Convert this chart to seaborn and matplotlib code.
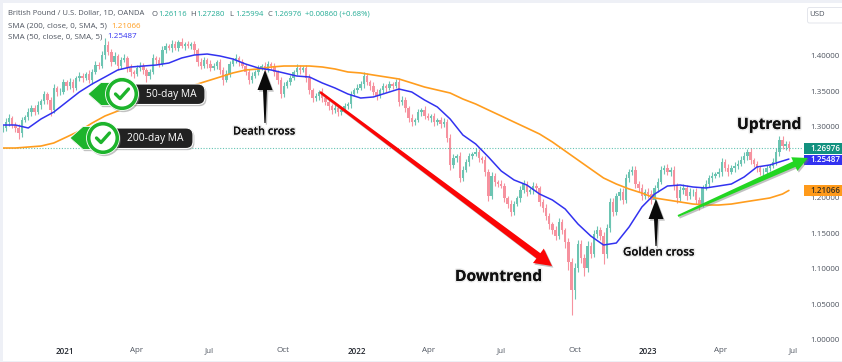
import pandas as pd
import numpy as np
import seaborn as sns
import matplotlib.pyplot as plt
import matplotlib.dates as mdates
import matplotlib.patheffects as pe
from matplotlib.patches import Circle, Polygon, FancyBboxPatch, Rectangle

# GBP/USD daily chart (one candle per 4 days)
closes = [
    1.2986, 1.3070, 1.3127, 1.3028, 1.2986, 1.2915, 1.3099, 1.3141, 1.3211, 1.3268,
    1.3211, 1.3310, 1.3366, 1.3465, 1.3380, 1.3239, 1.3549, 1.3493, 1.3493, 1.3634,
    1.3577, 1.3634, 1.3549, 1.3690, 1.3718, 1.3690, 1.3746, 1.3662, 1.3775, 1.3873,
    1.3859, 1.4014, 1.4155, 1.4056, 1.3915, 1.4000, 1.3859, 1.3944, 1.3972, 1.3831,
    1.3775, 1.3746, 1.3831, 1.3859, 1.3803, 1.3718, 1.3775, 1.3972, 1.3944, 1.3887,
    1.4085, 1.4141, 1.4113, 1.4169, 1.4113, 1.4197, 1.4141, 1.4169, 1.4141, 1.4169,
    1.4085, 1.3915, 1.3859, 1.3944, 1.3887, 1.3831, 1.3859, 1.3915, 1.3803, 1.3662,
    1.3746, 1.3887, 1.3944, 1.3972, 1.3915, 1.3859, 1.3775, 1.3662, 1.3718, 1.3775,
    1.3831, 1.3859, 1.3803, 1.3887, 1.3859, 1.3775, 1.3662, 1.3465, 1.3577, 1.3634,
    1.3690, 1.3775, 1.3831, 1.3803, 1.3831, 1.3690, 1.3521, 1.3408, 1.3437, 1.3493,
    1.3408, 1.3352, 1.3296, 1.3239, 1.3268, 1.3211, 1.3239, 1.3296, 1.3324, 1.3465,
    1.3521, 1.3549, 1.3606, 1.3718, 1.3634, 1.3577, 1.3493, 1.3437, 1.3521, 1.3577,
    1.3549, 1.3606, 1.3577, 1.3634, 1.3352, 1.3380, 1.3268, 1.3127, 1.3070, 1.3099,
    1.3211, 1.3239, 1.3155, 1.3127, 1.3155, 1.3070, 1.3099, 1.3042, 1.3070, 1.2845,
    1.2465, 1.2563, 1.2592, 1.2282, 1.2394, 1.2507, 1.2592, 1.2620, 1.2648, 1.2563,
    1.2535, 1.2366, 1.2028, 1.2310, 1.2225, 1.2197, 1.2169, 1.2000, 1.1915, 1.1803,
    1.1915, 1.2000, 1.2113, 1.2197, 1.2085, 1.2113, 1.2169, 1.2141, 1.1944, 1.1859,
    1.1746, 1.1634, 1.1549, 1.1465, 1.1662, 1.1549, 1.1380, 1.1099, 1.0704, 1.1014,
    1.1352, 1.1155, 1.1014, 1.1324, 1.1211, 1.1493, 1.1549, 1.1465, 1.1211, 1.1577,
    1.1944, 1.1803, 1.2028, 1.2085, 1.1972, 1.2282, 1.2366, 1.2394, 1.2197, 1.2141,
    1.2028, 1.2085, 1.2056, 1.1972, 1.2141, 1.2225, 1.2394, 1.2423, 1.2366, 1.2394,
    1.2169, 1.2000, 1.2113, 1.2141, 1.2028, 1.2085, 1.2085, 1.1972, 1.1915, 1.2141,
    1.2197, 1.2282, 1.2310, 1.2338, 1.2366, 1.2507, 1.2423, 1.2366, 1.2423, 1.2451,
    1.2479, 1.2535, 1.2592, 1.2648, 1.2535, 1.2479, 1.2423, 1.2366, 1.2366, 1.2423,
    1.2451, 1.2507, 1.2648, 1.2817, 1.2732, 1.2761, 1.2698,
]
upper_wicks = [
    .004, .006, .005, .003, .004, .006, .004, .003, .005, .004,
    .004, .005, .003, .004, .003, .004, .005, .003, .006, .004,
    .003, .005, .004, .003, .005, .004, .003, .006, .004, .005,
    .004, .006, .010, .005, .004, .005, .003, .004, .006, .003,
    .005, .003, .004, .006, .004, .003, .004, .005, .003, .004,
    .005, .004, .003, .005, .004, .003, .005, .003, .004, .003,
    .004, .003, .005, .004, .003, .005, .004, .003, .004, .004,
    .005, .004, .003, .005, .003, .004, .003, .004, .005, .003,
    .004, .003, .005, .004, .003, .004, .003, .004, .005, .003,
    .004, .003, .005, .004, .003, .004, .005, .003, .004, .003,
    .005, .003, .004, .003, .005, .004, .003, .004, .003, .004,
    .003, .005, .004, .005, .004, .003, .005, .004, .003, .004,
    .003, .004, .003, .004, .006, .005, .004, .003, .005, .003,
    .004, .003, .005, .004, .003, .004, .003, .004, .005, .004,
    .006, .005, .003, .006, .005, .004, .004, .003, .005, .004,
    .003, .005, .004, .006, .004, .003, .005, .004, .003, .005,
    .004, .003, .005, .006, .004, .003, .005, .004, .003, .004,
    .005, .004, .003, .005, .006, .004, .003, .005, .006, .007,
    .006, .005, .006, .007, .005, .006, .005, .004, .006, .005,
    .005, .006, .004, .005, .006, .005, .004, .006, .005, .004,
    .005, .004, .006, .005, .004, .005, .006, .004, .005, .004,
    .005, .004, .005, .006, .004, .005, .004, .005, .004, .004,
    .005, .004, .006, .003, .005, .006, .004, .005, .004, .006,
    .005, .006, .006, .004, .005, .003, .004, .003, .005, .004,
    .003, .005, .006, .005, .006, .004, .004,
]
lower_wicks = [
    .006, .004, .005, .004, .005, .008, .005, .003, .004, .005,
    .004, .003, .005, .004, .006, .008, .004, .006, .004, .003,
    .005, .004, .006, .003, .004, .005, .003, .004, .005, .003,
    .004, .003, .005, .004, .006, .003, .006, .004, .003, .005,
    .006, .005, .003, .004, .005, .008, .004, .003, .005, .004,
    .003, .004, .003, .005, .003, .004, .003, .005, .003, .004,
    .005, .006, .004, .003, .005, .004, .003, .004, .005, .007,
    .003, .004, .003, .004, .005, .003, .004, .006, .004, .003,
    .004, .003, .005, .003, .004, .006, .005, .005, .004, .003,
    .004, .003, .004, .005, .003, .006, .005, .006, .004, .005,
    .006, .004, .005, .006, .004, .005, .004, .003, .004, .005,
    .003, .004, .003, .005, .004, .006, .004, .005, .003, .004,
    .005, .003, .004, .003, .006, .004, .005, .005, .006, .004,
    .003, .005, .004, .003, .005, .006, .004, .005, .004, .006,
    .007, .004, .005, .006, .004, .003, .005, .004, .003, .005,
    .004, .006, .007, .004, .005, .004, .003, .006, .005, .006,
    .004, .003, .005, .004, .006, .003, .005, .004, .006, .005,
    .006, .007, .005, .006, .004, .006, .009, .012, .035, .012,
    .005, .007, .011, .006, .005, .004, .005, .006, .014, .005,
    .006, .005, .004, .005, .006, .004, .005, .004, .006, .005,
    .005, .004, .006, .005, .004, .005, .003, .005, .004, .006,
    .006, .007, .004, .005, .006, .004, .005, .006, .008, .004,
    .003, .004, .005, .003, .004, .005, .004, .006, .003, .005,
    .004, .003, .004, .005, .006, .004, .005, .004, .005, .003,
    .004, .003, .004, .006, .004, .005, .003,
]

# 50 and 200 day averages, read every 16 days plus the last bar
sma50 = [
    1.3028, 1.3028, 1.2986, 1.3113, 1.3211, 1.3352, 1.3493, 1.3606, 1.3704, 1.3803,
    1.3845, 1.3859, 1.3873, 1.3901, 1.3972, 1.4014, 1.4028, 1.4000, 1.3958, 1.3887,
    1.3831, 1.3803, 1.3761, 1.3718, 1.3704, 1.3620, 1.3549, 1.3465, 1.3408, 1.3423,
    1.3479, 1.3535, 1.3493, 1.3380, 1.3282, 1.3113, 1.2887, 1.2761, 1.2577, 1.2380,
    1.2254, 1.2183, 1.2056, 1.1972, 1.1845, 1.1634, 1.1465, 1.1338, 1.1366, 1.1592,
    1.1873, 1.2056, 1.2169, 1.2183, 1.2155, 1.2141, 1.2169, 1.2197, 1.2296, 1.2437,
    1.2465, 1.2521, 1.25487,
]
sma200 = [
    1.2704, 1.2704, 1.2718, 1.2732, 1.2775, 1.2859, 1.2944, 1.3056, 1.3155, 1.3225,
    1.3296, 1.3352, 1.3408, 1.3451, 1.3521, 1.3592, 1.3648, 1.3704, 1.3761, 1.3803,
    1.3817, 1.3845, 1.3859, 1.3859, 1.3859, 1.3845, 1.3817, 1.3775, 1.3761, 1.3732,
    1.3704, 1.3676, 1.3620, 1.3563, 1.3521, 1.3479, 1.3394, 1.3324, 1.3239, 1.3155,
    1.3070, 1.2986, 1.2901, 1.2789, 1.2662, 1.2535, 1.2408, 1.2282, 1.2197, 1.2127,
    1.2070, 1.2000, 1.1972, 1.1944, 1.1915, 1.1901, 1.1901, 1.1915, 1.1944, 1.1972,
    1.2000, 1.2056, 1.21066,
]

last_close = 1.26976
price_ticks = [1.00, 1.05, 1.10, 1.15, 1.20, 1.30, 1.35, 1.40]
price_labels = ['1.00000', '1.05000', '1.10000', '1.15000', '1.20000', '1.30000', '1.35000', '1.40000']
month_ticks = ['2021-01-01', '2021-04-01', '2021-07-01', '2021-10-01', '2022-01-01', '2022-04-01',
               '2022-07-01', '2022-10-01', '2023-01-01', '2023-04-01', '2023-07-01']
month_labels = ['2021', 'Apr', 'Jul', 'Oct', '2022', 'Apr', 'Jul', 'Oct', '2023', 'Apr', 'Jul']

UP = '#6cc4b2'
DOWN = '#f6929f'
TEAL = '#22ab94'
BLUE = '#3232f0'
ORANGE = '#ff9d1e'
GREY = '#4f5560'
BADGE = '#1db42c'
FONT = 'Open Sans'

sns.set_theme(style='white')
plt.rcParams['font.family'] = [FONT, 'DejaVu Sans']

dates = pd.date_range('2020-10-15', periods=len(closes), freq='4D')
opens = [closes[0]] + closes[:-1]
df = pd.DataFrame({'date': dates, 'open': opens, 'close': closes})
df['high'] = df[['open', 'close']].max(axis=1) + upper_wicks
df['low'] = df[['open', 'close']].min(axis=1) - lower_wicks
df['color'] = np.where(df['close'] >= df['open'], UP, DOWN)

ma_dates = list(dates[::4]) + [dates[-1]]
ma = pd.DataFrame({'date': ma_dates, 'sma50': sma50, 'sma200': sma200})

fig = plt.figure(figsize=(8.42, 3.62), dpi=100, facecolor='white')
ax = fig.add_axes([3 / 842, 16 / 362, 800 / 842, 334 / 362])

ax.vlines(df['date'], df['low'], df['high'], colors=df['color'], linewidth=0.8, zorder=1)
ax.bar(df['date'], df['close'] - df['open'], bottom=df['open'], width=3.0, color=df['color'],
       linewidth=0, zorder=2)
ax.axhline(last_close, color=TEAL, linewidth=0.8, linestyle=(0, (1, 1.5)), alpha=0.7, zorder=2)
sns.lineplot(data=ma, x='date', y='sma200', color=ORANGE, linewidth=1.2, ax=ax, zorder=3)
sns.lineplot(data=ma, x='date', y='sma50', color=BLUE, linewidth=1.1, ax=ax, zorder=4)

# 0.799 px per day, Jan 2021 at px 65
ax.set_xlim(mdates.date2num(pd.Timestamp('2021-01-01')) - 62 / 0.799,
            mdates.date2num(pd.Timestamp('2021-01-01')) + 738 / 0.799)
ax.set_ylim(1.40 - 290 / 710, 1.40 + 44 / 710)
ax.set_xlabel('')
ax.set_ylabel('')
ax.set_xticks([mdates.date2num(pd.Timestamp(m)) for m in month_ticks])
ax.set_xticklabels(month_labels, fontsize=5.8, color=GREY)
for lab in ax.get_xticklabels():
    if lab.get_text().startswith('20'):
        lab.set_color('#22262e')
        lab.set_fontweight('semibold')
ax.yaxis.tick_right()
ax.set_yticks(price_ticks)
ax.set_yticklabels(price_labels, fontsize=5.8, color=GREY)
ax.tick_params(axis='both', length=0, pad=1)
ax.tick_params(axis='y', pad=5)
sns.despine(ax=ax, left=True, right=True, top=True, bottom=True)
ax.patch.set_alpha(0)

# overlay in picture pixels for the hand drawn annotations
ov = fig.add_axes([0, 0, 1, 1])
ov.set_xlim(0, 842)
ov.set_ylim(362, 0)
ov.axis('off')

# frame of the screenshot
frame = '#eef0f6'
ov.add_patch(Rectangle((0, 0), 842, 3, color=frame, linewidth=0))
ov.add_patch(Rectangle((0, 0), 2.5, 362, color=frame, linewidth=0))
ov.add_patch(Rectangle((0, 360.5), 842, 2, color=frame, linewidth=0))

# legend lines
def seg(x, y, s, color=GREY, size=5.5):
    ov.text(x, y, s, fontsize=size, color=color, va='center', ha='left')

seg(8, 14, 'British Pound / U.S. Dollar, 1D, OANDA')
for x, letter, value in [(152, 'O', '1.26116'), (190, 'H', '1.27280'),
                         (229, 'L', '1.25994'), (267, 'C', '1.26976')]:
    seg(x, 14, letter)
    seg(x + 6, 14, value, TEAL)
seg(305, 14, '+0.00860 (+0.68%)', TEAL)
seg(8, 26, 'SMA (200, close, 0, SMA, 5)', size=5.8)
seg(111, 26, '1.21066', ORANGE, 5.8)
seg(8, 37, 'SMA (50, close, 0, SMA, 5)', size=5.8)
seg(107, 37, '1.25487', BLUE, 5.8)

# USD button and last value tags
ov.add_patch(FancyBboxPatch((807.5, 7.5), 40, 15.5, boxstyle='round,pad=0,rounding_size=2',
                            facecolor='white', edgecolor='#e4e6ec', linewidth=0.7))
ov.text(809, 15, 'USD', fontsize=5.6, color=GREY, va='center')
for y0, y1, col, txt, tc in [(143, 154, '#12917f', '1.26976', 'white'),
                             (155, 165, BLUE, '1.25487', 'white'),
                             (185, 196, '#ff9a1a', '1.21066', '#3a3020')]:
    ov.add_patch(Rectangle((804, y0), 38, y1 - y0, color=col, linewidth=0))
    ov.text(810, (y0 + y1) / 2, txt, fontsize=5.8, color=tc, va='center', fontweight='semibold')

shadow = [pe.SimplePatchShadow(offset=(1, -1.2), shadow_rgbFace='#777777', alpha=0.45), pe.Normal()]

# 50 and 200 day badges
def badge(cx, cy, tip, pill_x1, text_x, label):
    pill = FancyBboxPatch((cx, cy - 10), pill_x1 - cx, 20.5, boxstyle='round,pad=0,rounding_size=7',
                          facecolor='#222222', edgecolor='white', linewidth=0.8, zorder=5)
    pill.set_path_effects(shadow)
    ov.add_patch(pill)
    arrow = Polygon([(tip, cy), (tip + 13, cy - 11.5), (cx, cy - 11.5), (cx, cy + 11.5), (tip + 13, cy + 11.5)],
                    facecolor=BADGE, edgecolor='white', linewidth=0.6, zorder=6)
    arrow.set_path_effects(shadow)
    ov.add_patch(arrow)
    disc = Circle((cx, cy), 16.5, facecolor=BADGE, edgecolor='white', linewidth=0.6, zorder=7)
    disc.set_path_effects(shadow)
    ov.add_patch(disc)
    ov.add_patch(Circle((cx, cy), 12.5, facecolor='white', edgecolor='none', zorder=8))
    ov.plot([cx - 6.5, cx - 2, cx + 6.5], [cy, cy + 4.5, cy - 5], color=BADGE, linewidth=2.4,
            solid_capstyle='round', solid_joinstyle='round', zorder=9)
    ov.text(text_x, cy + 0.3, label, color='white', fontsize=7.4, va='center', zorder=10)

badge(122, 94, 88, 205, 146, '50-day MA')
badge(103, 138, 70, 193, 127, '200-day MA')

# captions
glow = [pe.withStroke(linewidth=2.2, foreground='#ececec'), pe.Normal()]
ov.text(233, 132, 'Death cross', fontsize=7.9, fontweight='semibold', color='#111111', va='center',
        ha='left', path_effects=glow)
ov.text(623, 252, 'Golden cross', fontsize=8.3, fontweight='semibold', color='#111111', va='center',
        ha='left', path_effects=glow)
ov.text(455, 277, 'Downtrend', fontsize=11.2, fontweight='bold', color='#111111', va='center',
        ha='left', path_effects=glow)
ov.text(737, 125, 'Uptrend', fontsize=11.2, fontweight='bold', color='#111111', va='center',
        ha='left', path_effects=glow)

# arrows, shaft grows from w0 at the tail to w1 at the head
def arrow(x0, y0, x1, y1, w0, w1, hw, hl, col):
    p0 = np.array([x0, y0], dtype=float)
    p1 = np.array([x1, y1], dtype=float)
    d = (p1 - p0) / np.hypot(*(p1 - p0))
    n = np.array([-d[1], d[0]])
    neck = p1 - d * hl
    pts = [p0 + n * w0 / 2, neck + n * w1 / 2, neck + n * hw / 2, p1,
           neck - n * hw / 2, neck - n * w1 / 2, p0 - n * w0 / 2]
    a = Polygon(pts, closed=True, facecolor=col, edgecolor='none', zorder=4)
    a.set_path_effects(shadow)
    ov.add_patch(a)

arrow(265, 123, 265, 70, 1.2, 4, 15, 20, '#0a0a0a')
arrow(656, 246, 656, 199, 1.2, 4, 15, 20, '#0a0a0a')
arrow(320, 92, 552, 266, 2.5, 6.5, 18, 17, '#fb0505')
arrow(678, 216, 808, 158, 2, 6, 15, 15, '#22d622')

fig.savefig('out.png', dpi=100)
